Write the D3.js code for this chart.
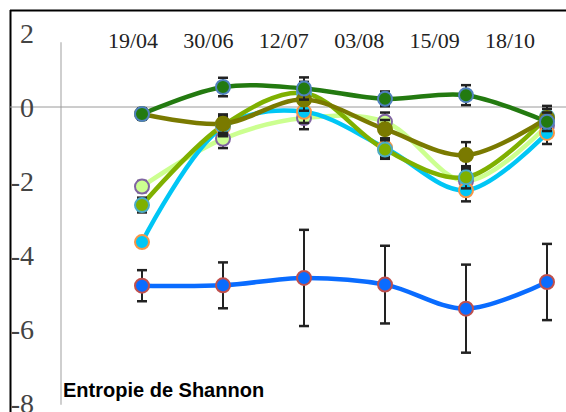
<!DOCTYPE html>
<html lang="fr">
<head>
<meta charset="UTF-8">
<title>Entropie de Shannon</title>
<script src="https://d3js.org/d3.v7.min.js"></script>
<style>
  body { margin: 0; background: #fff; }
</style>
</head>
<body>
<svg id="chart" width="566" height="412"></svg>
<script>
// date labels along the top and sampling points
const dates = ["19/04", "30/06", "12/07", "03/08", "15/09", "18/10"];
const yTicks = [2, 0, -2, -4, -6, -8];

// series values and their error bars
const darkGreen   = [-0.19, 0.54, 0.5, 0.22, 0.32, -0.4];
const darkGreenErr = [0.15, 0.25, 0.3, 0.2, 0.27, 0.25];
const olive       = [-0.19, -0.45, 0.2, -0.6, -1.3, -0.3];
const oliveErr    = [0.15, 0.25, 0.3, 0.25, 0.35, 0.25];
const yellowGreen = [-2.65, -0.5, 0.38, -1.15, -1.9, -0.27];
const yellowGreenErr = [0.2, 0.25, 0.3, 0.25, 0.3, 0.3];
const lightGreen  = [-2.15, -0.86, -0.3, -0.4, -2.0, -0.5];
const lightGreenErr = [0.15, 0.25, 0.3, 0.25, 0.3, 0.3];
const cyan        = [-3.65, -0.54, -0.13, -1.1, -2.25, -0.7];
const cyanErr     = [0.1, 0.25, 0.3, 0.25, 0.3, 0.3];
const blue        = [-4.83, -4.82, -4.62, -4.8, -5.45, -4.73];
const blueErr     = [0.42, 0.62, 1.3, 1.05, 1.19, 1.03];

const series = [
  { values: blue, err: blueErr, line: "#0a6cff", fill: "#0a6cff", stroke: "#c0504d" },
  { values: lightGreen, err: lightGreenErr, line: "#ccff90", fill: "#ccff90", stroke: "#8064a2" },
  { values: cyan, err: cyanErr, line: "#00c6f5", fill: "#00c6f5", stroke: "#f79646" },
  { values: yellowGreen, err: yellowGreenErr, line: "#7fb000", fill: "#7fb000", stroke: "#4bacc6" },
  { values: olive, err: oliveErr, line: "#7a7a00", fill: "#7a7a00", stroke: "#7a7a00" },
  { values: darkGreen, err: darkGreenErr, line: "#237a10", fill: "#237a10", stroke: "#4f81bd" }
];

const svg = d3.select("#chart");

// scales
const x = d3.scalePoint().domain(d3.range(dates.length)).range([142, 547]);
const xLabel = d3.scalePoint().domain(dates).range([133, 510]);
const y = d3.scaleLinear().domain([-8, 2]).range([403, 33]);

// frame (top and left edges of the cropped picture)
svg.append("line").attr("x1", 10).attr("x2", 566).attr("y1", 10.5).attr("y2", 10.5)
  .attr("stroke", "#000").attr("stroke-width", 2);
svg.append("line").attr("x1", 10.5).attr("x2", 10.5).attr("y1", 10).attr("y2", 412)
  .attr("stroke", "#000").attr("stroke-width", 2);

// vertical gray axis line and zero line
svg.append("line").attr("x1", 61).attr("x2", 61).attr("y1", y(1.75)).attr("y2", y(-8.05))
  .attr("stroke", "#cfcfcf").attr("stroke-width", 2);
svg.append("line").attr("x1", 10).attr("x2", 566).attr("y1", y(0)).attr("y2", y(0))
  .attr("stroke", "#9a9a9a").attr("stroke-width", 1);

// y tick labels
svg.selectAll(".ytick").data(yTicks).enter().append("text")
  .attr("class", "ytick")
  .attr("x", 34)
  .attr("y", d => y(d))
  .attr("dy", "0.35em")
  .attr("text-anchor", "end")
  .attr("font-family", "Liberation Serif, serif")
  .attr("font-size", 28)
  .attr("fill", "#444")
  .text(d => d < 0 ? "-" + Math.abs(d) : d);

// date labels
svg.selectAll(".xtick").data(dates).enter().append("text")
  .attr("class", "xtick")
  .attr("x", d => xLabel(d))
  .attr("y", 48)
  .attr("text-anchor", "middle")
  .attr("font-family", "Liberation Serif, serif")
  .attr("font-size", 22)
  .attr("fill", "#222")
  .text(d => d);

const line = d3.line()
  .x((d, i) => x(i))
  .y(d => y(d))
  .curve(d3.curveCatmullRom.alpha(0.5));

// smooth lines
svg.selectAll(".series").data(series).enter().append("path")
  .attr("class", "series")
  .attr("d", s => line(s.values))
  .attr("fill", "none")
  .attr("stroke", s => s.line)
  .attr("stroke-width", 4.5);

// error bars + markers
series.forEach(s => {
  const g = svg.append("g");
  s.values.forEach((v, i) => {
    const cx = x(i);
    g.append("line").attr("x1", cx).attr("x2", cx)
      .attr("y1", y(v + s.err[i])).attr("y2", y(v - s.err[i]))
      .attr("stroke", "#222").attr("stroke-width", 2);
    [v + s.err[i], v - s.err[i]].forEach(e => {
      g.append("line").attr("x1", cx - 5).attr("x2", cx + 5)
        .attr("y1", y(e)).attr("y2", y(e))
        .attr("stroke", "#222").attr("stroke-width", 2.5);
    });
  });
  g.selectAll("circle").data(s.values).enter().append("circle")
    .attr("cx", (d, i) => x(i))
    .attr("cy", d => y(d))
    .attr("r", 7)
    .attr("fill", s.fill)
    .attr("stroke", s.stroke)
    .attr("stroke-width", 2);
});

// title
svg.append("text")
  .attr("x", 63)
  .attr("y", 397)
  .attr("font-family", "Liberation Sans, Arial, sans-serif")
  .attr("font-weight", "bold")
  .attr("font-size", 20)
  .attr("fill", "#000")
  .text("Entropie de Shannon");
</script>
</body>
</html>
